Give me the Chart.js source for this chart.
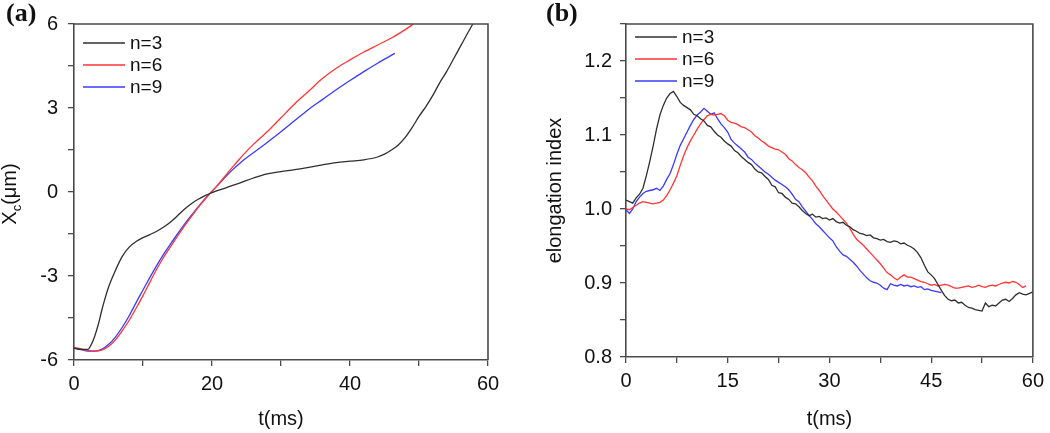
<!DOCTYPE html>
<html>
<head>
<meta charset="utf-8">
<script src="https://cdn.jsdelivr.net/npm/chart.js@4.4.0/dist/chart.umd.min.js"></script>
<style>
  body { margin: 0; background: #fff; width: 1050px; height: 433px; overflow: hidden; position: relative;
         font-family: "Liberation Sans", Arial, sans-serif; color: #111; }
  canvas { position: absolute; top: 0; }
  #chartA { left: 0; }
  #chartB { left: 525px; }
  .tag { position: absolute; top: -2px; font: bold 26px "Liberation Serif", "Times New Roman", serif; color: #111; }
  .ytitle { position: absolute; left: 13px; top: 194px; font-size: 20px; line-height: 20px; white-space: nowrap;
            transform: translate(-50%, -50%) rotate(-90deg); }
  .ytitle sub { font-size: 13px; }
</style>
</head>
<body>
<canvas id="chartA" width="525" height="433"></canvas>
<canvas id="chartB" width="525" height="433"></canvas>
<div class="tag" style="left:6px">(a)</div>
<div class="tag" style="left:546px">(b)</div>
<div class="ytitle">X<sub>c</sub>(μm)</div>
<script>
// panel (a): centre position X_c (um) vs t (ms)
var tA3 = [0, 1, 2, 2.5, 3, 3.5, 4, 4.5, 5, 6, 7, 8, 9, 10, 11, 12, 13, 14, 15, 16, 17, 18, 19, 20,
  22, 24, 26, 28, 30, 32, 34, 36, 38, 40, 42, 44, 45, 46, 47, 48, 49, 50, 51, 52, 53, 54, 55, 56, 57, 57.8];
var xA3 = [-5.57, -5.62, -5.62, -5.45, -5.15, -4.75, -4.25, -3.8, -3.4, -2.8, -2.3, -1.97, -1.77, -1.63, -1.52,
  -1.4, -1.25, -1.07, -0.85, -0.62, -0.42, -0.26, -0.13, -0.02, 0.15, 0.32, 0.5, 0.65, 0.73, 0.8, 0.88, 0.97,
  1.05, 1.1, 1.15, 1.25, 1.35, 1.5, 1.68, 1.95, 2.3, 2.7, 3.05, 3.45, 3.9, 4.3, 4.75, 5.2, 5.65, 6.0];
var tA6 = [0, 1, 2, 3, 4, 5, 6, 7, 8, 9, 10, 11, 12, 13, 14, 15, 16, 17, 18, 19, 20, 21, 22, 23, 24, 25,
  26, 27, 28, 30, 32, 34, 36, 38, 40, 42, 44, 46, 48, 49.2];
var xA6 = [-5.55, -5.6, -5.66, -5.68, -5.65, -5.52, -5.28, -4.95, -4.58, -4.15, -3.7, -3.22, -2.75, -2.33, -1.95,
  -1.58, -1.22, -0.88, -0.55, -0.25, 0.02, 0.3, 0.6, 0.9, 1.18, 1.45, 1.7, 1.93, 2.15, 2.65, 3.15, 3.6, 4.05,
  4.42, 4.72, 5.0, 5.25, 5.5, 5.8, 6.0];
var tA9 = [0, 1, 2, 3, 4, 5, 6, 7, 8, 9, 10, 11, 12, 13, 14, 15, 16, 17, 18, 19, 20, 21, 22, 23, 24, 25,
  26, 28, 30, 32, 34, 36, 38, 40, 42, 44, 46.5];
var xA9 = [-5.58, -5.63, -5.68, -5.68, -5.62, -5.45, -5.18, -4.83, -4.42, -3.95, -3.5, -3.05, -2.62, -2.22, -1.85,
  -1.5, -1.16, -0.84, -0.53, -0.24, 0.03, 0.28, 0.55, 0.8, 1.02, 1.22, 1.4, 1.77, 2.15, 2.55, 2.95, 3.3, 3.65,
  3.98, 4.3, 4.6, 4.95];

// panel (b): elongation index, sampled every 0.5 ms
var tB = [0, 0.5, 1, 1.5, 2, 2.5, 3, 3.5, 4, 4.5, 5, 5.5, 6, 6.5, 7, 7.5, 8, 8.5, 9, 9.5,
  10, 10.5, 11, 11.5, 12, 12.5, 13, 13.5, 14, 14.5, 15, 15.5, 16, 16.5, 17, 17.5, 18, 18.5, 19, 19.5,
  20, 20.5, 21, 21.5, 22, 22.5, 23, 23.5, 24, 24.5, 25, 25.5, 26, 26.5, 27, 27.5, 28, 28.5, 29, 29.5,
  30, 30.5, 31, 31.5, 32, 32.5, 33, 33.5, 34, 34.5, 35, 35.5, 36, 36.5, 37, 37.5, 38, 38.5, 39, 39.5,
  40, 40.5, 41, 41.5, 42, 42.5, 43, 43.5, 44, 44.5, 45, 45.5, 46, 46.5, 47, 47.5, 48, 48.5, 49, 49.5,
  50, 50.5, 51, 51.5, 52, 52.5, 53, 53.5, 54, 54.5, 55, 55.5, 56, 56.5, 57, 57.5, 58, 58.5, 59, 59.5, 60];
var eB3 = [1.012, 1.010, 1.008, 1.015, 1.020, 1.028, 1.045, 1.064, 1.085, 1.108,
  1.127, 1.140, 1.150, 1.156, 1.159, 1.152, 1.144, 1.140, 1.137, 1.134,
  1.128, 1.126, 1.122, 1.119, 1.113, 1.111, 1.105, 1.100, 1.097, 1.092,
  1.088, 1.085, 1.079, 1.076, 1.071, 1.067, 1.063, 1.060, 1.054, 1.050,
  1.049, 1.044, 1.040, 1.032, 1.030, 1.022, 1.021, 1.016, 1.013, 1.008,
  1.007, 1.003, 0.998, 0.994, 0.991, 0.993, 0.989, 0.990, 0.987, 0.988,
  0.985, 0.987, 0.983, 0.981, 0.982, 0.978, 0.976, 0.972, 0.970, 0.967,
  0.966, 0.964, 0.965, 0.961, 0.960, 0.958, 0.959, 0.956, 0.955, 0.957,
  0.956, 0.953, 0.954, 0.951, 0.949, 0.946, 0.941, 0.934, 0.924, 0.915,
  0.911, 0.906, 0.898, 0.890, 0.883, 0.878, 0.876, 0.877, 0.873, 0.874,
  0.870, 0.867, 0.866, 0.864, 0.863, 0.862, 0.873, 0.868, 0.870, 0.869,
  0.873, 0.877, 0.878, 0.875, 0.879, 0.884, 0.887, 0.885, 0.884, 0.886,
  0.888];
var eB6 = [1.000, 0.999, 1.002, 1.005, 1.008, 1.010, 1.009, 1.008, 1.007, 1.008,
  1.009, 1.012, 1.018, 1.026, 1.035, 1.045, 1.059, 1.072, 1.083, 1.092,
  1.100, 1.108, 1.115, 1.121, 1.126, 1.128, 1.127, 1.128, 1.129, 1.126,
  1.120, 1.117, 1.116, 1.114, 1.111, 1.110, 1.107, 1.104, 1.099, 1.096,
  1.092, 1.089, 1.085, 1.083, 1.081, 1.080, 1.077, 1.074, 1.068, 1.065,
  1.060, 1.056, 1.053, 1.049, 1.043, 1.038, 1.031, 1.025, 1.018, 1.012,
  1.006, 1.000, 0.996, 0.991, 0.986, 0.981, 0.974, 0.966, 0.959, 0.955,
  0.951, 0.946, 0.941, 0.936, 0.931, 0.926, 0.920, 0.914, 0.911, 0.907,
  0.904, 0.908, 0.911, 0.908, 0.908, 0.906, 0.904, 0.902, 0.901, 0.899,
  0.897, 0.898, 0.896, 0.897, 0.898, 0.897, 0.895, 0.893, 0.893, 0.894,
  0.895, 0.896, 0.894, 0.895, 0.897, 0.895, 0.894, 0.896, 0.897, 0.896,
  0.898, 0.900, 0.901, 0.900, 0.902, 0.901, 0.898, 0.894, 0.896];
var eB9 = [0.999, 0.994, 1.000, 1.010, 1.016, 1.021, 1.024, 1.025, 1.026, 1.028,
  1.025, 1.031, 1.040, 1.048, 1.060, 1.074, 1.086, 1.095, 1.104, 1.113,
  1.121, 1.127, 1.131, 1.136, 1.132, 1.128, 1.130, 1.122, 1.115, 1.110,
  1.104, 1.094, 1.089, 1.085, 1.081, 1.077, 1.070, 1.067, 1.062, 1.058,
  1.054, 1.050, 1.047, 1.043, 1.039, 1.036, 1.033, 1.030, 1.026, 1.020,
  1.013, 1.010, 1.003, 0.997, 0.991, 0.986, 0.980, 0.976, 0.971, 0.966,
  0.961, 0.957, 0.949, 0.943, 0.938, 0.936, 0.932, 0.928, 0.923, 0.917,
  0.912, 0.907, 0.903, 0.901, 0.900, 0.897, 0.893, 0.891, 0.899, 0.897,
  0.896, 0.898, 0.896, 0.897, 0.895, 0.896, 0.894, 0.895, 0.891, 0.892,
  0.890, 0.889, 0.888, 0.887];

var seriesNames = ["n=3", "n=6", "n=9"];
var seriesColors = ["#2e2e2e", "#ff3535", "#3a3aff"];

var AXIS = "#4a4a4a";
var TXT = "#111";
var FONT = "'Liberation Sans', Arial, sans-serif";

function pairs(ts, vs) {
  return vs.map(function (v, i) { return { x: ts[i], y: v }; });
}

function lineSet(i, ts, vs, smooth) {
  return {
    label: seriesNames[i],
    data: pairs(ts, vs),
    borderColor: seriesColors[i],
    borderWidth: 1.3,
    pointRadius: 0,
    tension: smooth ? 0.4 : 0,
    cubicInterpolationMode: smooth ? "monotone" : "default",
    fill: false
  };
}

// top and right edges of the plot box
var framePlugin = {
  id: "frame",
  afterDraw: function (chart) {
    var a = chart.chartArea, ctx = chart.ctx;
    ctx.save();
    ctx.strokeStyle = AXIS;
    ctx.lineWidth = 1.6;
    ctx.beginPath();
    ctx.moveTo(a.left, a.top);
    ctx.lineTo(a.right, a.top);
    ctx.lineTo(a.right, a.bottom);
    ctx.stroke();
    ctx.restore();
  }
};

// legend sitting inside the plot, top left
var innerLegend = {
  id: "innerLegend",
  afterDraw: function (chart, args, opts) {
    var a = chart.chartArea, ctx = chart.ctx;
    ctx.save();
    ctx.font = opts.size + "px " + FONT;
    ctx.textBaseline = "middle";
    ctx.fillStyle = TXT;
    chart.data.datasets.forEach(function (ds, i) {
      var y = a.top + opts.y + i * opts.step;
      ctx.strokeStyle = ds.borderColor;
      ctx.lineWidth = ds.borderWidth;
      ctx.beginPath();
      ctx.moveTo(a.left + opts.x, y);
      ctx.lineTo(a.left + opts.x + opts.len, y);
      ctx.stroke();
      ctx.fillText(ds.label, a.left + opts.x + opts.len + opts.gap, y + 1);
    });
    ctx.restore();
  }
};

function makeScales(o) {
  return {
    x: {
      type: "linear", min: o.xMin, max: o.xMax,
      afterFit: function (s) { s.height = o.xH; },
      border: { color: AXIS, width: 1.6 },
      grid: { drawOnChartArea: false, color: AXIS, tickLength: 6, lineWidth: 1.3 },
      ticks: {
        stepSize: o.xStep, autoSkip: false, maxRotation: 0, padding: 6, color: TXT,
        font: { family: FONT, size: 20 },
        callback: function (v) { return Math.abs(v % o.xLab) < 1e-6 ? String(v) : ""; }
      },
      title: { display: true, text: "t(ms)", color: TXT, font: { family: FONT, size: 20 }, padding: { top: 0, bottom: 2 } }
    },
    y: {
      type: "linear", min: o.yMin, max: o.yMax,
      afterFit: function (s) { s.width = o.yW; },
      border: { color: AXIS, width: 1.6 },
      grid: { drawOnChartArea: false, color: AXIS, tickLength: 6, lineWidth: 1.3 },
      ticks: {
        stepSize: o.yStep, autoSkip: false, padding: o.yPad, color: TXT,
        font: { family: FONT, size: 20 },
        callback: o.yFmt
      },
      title: o.yTitle ? { display: true, text: o.yTitle, color: TXT, font: { family: FONT, size: 20 }, padding: { top: 18, bottom: 0 } } : { display: false }
    }
  };
}

var common = {
  responsive: false,
  animation: false,
  devicePixelRatio: 1,
  plugins: { legend: { display: false }, tooltip: { enabled: false } }
};

new Chart(document.getElementById("chartA"), {
  type: "line",
  data: { datasets: [lineSet(0, tA3, xA3, true), lineSet(1, tA6, xA6, true), lineSet(2, tA9, xA9, true)] },
  options: Object.assign({}, common, {
    layout: { padding: { top: 24, right: 37, left: 0, bottom: 0 } },
    plugins: Object.assign({}, common.plugins, { innerLegend: { x: 9, y: 19, step: 22, len: 42, gap: 5, size: 19 } }),
    scales: makeScales({
      xMin: 0, xMax: 60, xStep: 10, xLab: 20, xH: 73,
      yMin: -6, yMax: 6, yStep: 1.5, yW: 74, yPad: 10,
      yFmt: function (v) { return Math.abs(v % 3) < 1e-6 ? String(v) : ""; }
    })
  }),
  plugins: [framePlugin, innerLegend]
});

new Chart(document.getElementById("chartB"), {
  type: "line",
  data: { datasets: [lineSet(0, tB, eB3, false), lineSet(1, tB, eB6, false), lineSet(2, tB, eB9, false)] },
  options: Object.assign({}, common, {
    layout: { padding: { top: 24, right: 14, left: 0, bottom: 0 } },
    plugins: Object.assign({}, common.plugins, { innerLegend: { x: 9, y: 13, step: 22, len: 42, gap: 5, size: 19 } }),
    scales: makeScales({
      xMin: 0, xMax: 60, xStep: 7.5, xLab: 15, xH: 76,
      yMin: 0.8, yMax: 1.25, yStep: 0.05, yW: 101, yPad: 8, yTitle: "elongation index",
      yFmt: function (v) {
        var k = v * 10;
        return Math.abs(k - Math.round(k)) < 1e-6 ? v.toFixed(1) : "";
      }
    })
  }),
  plugins: [framePlugin, innerLegend]
});
</script>
</body>
</html>
